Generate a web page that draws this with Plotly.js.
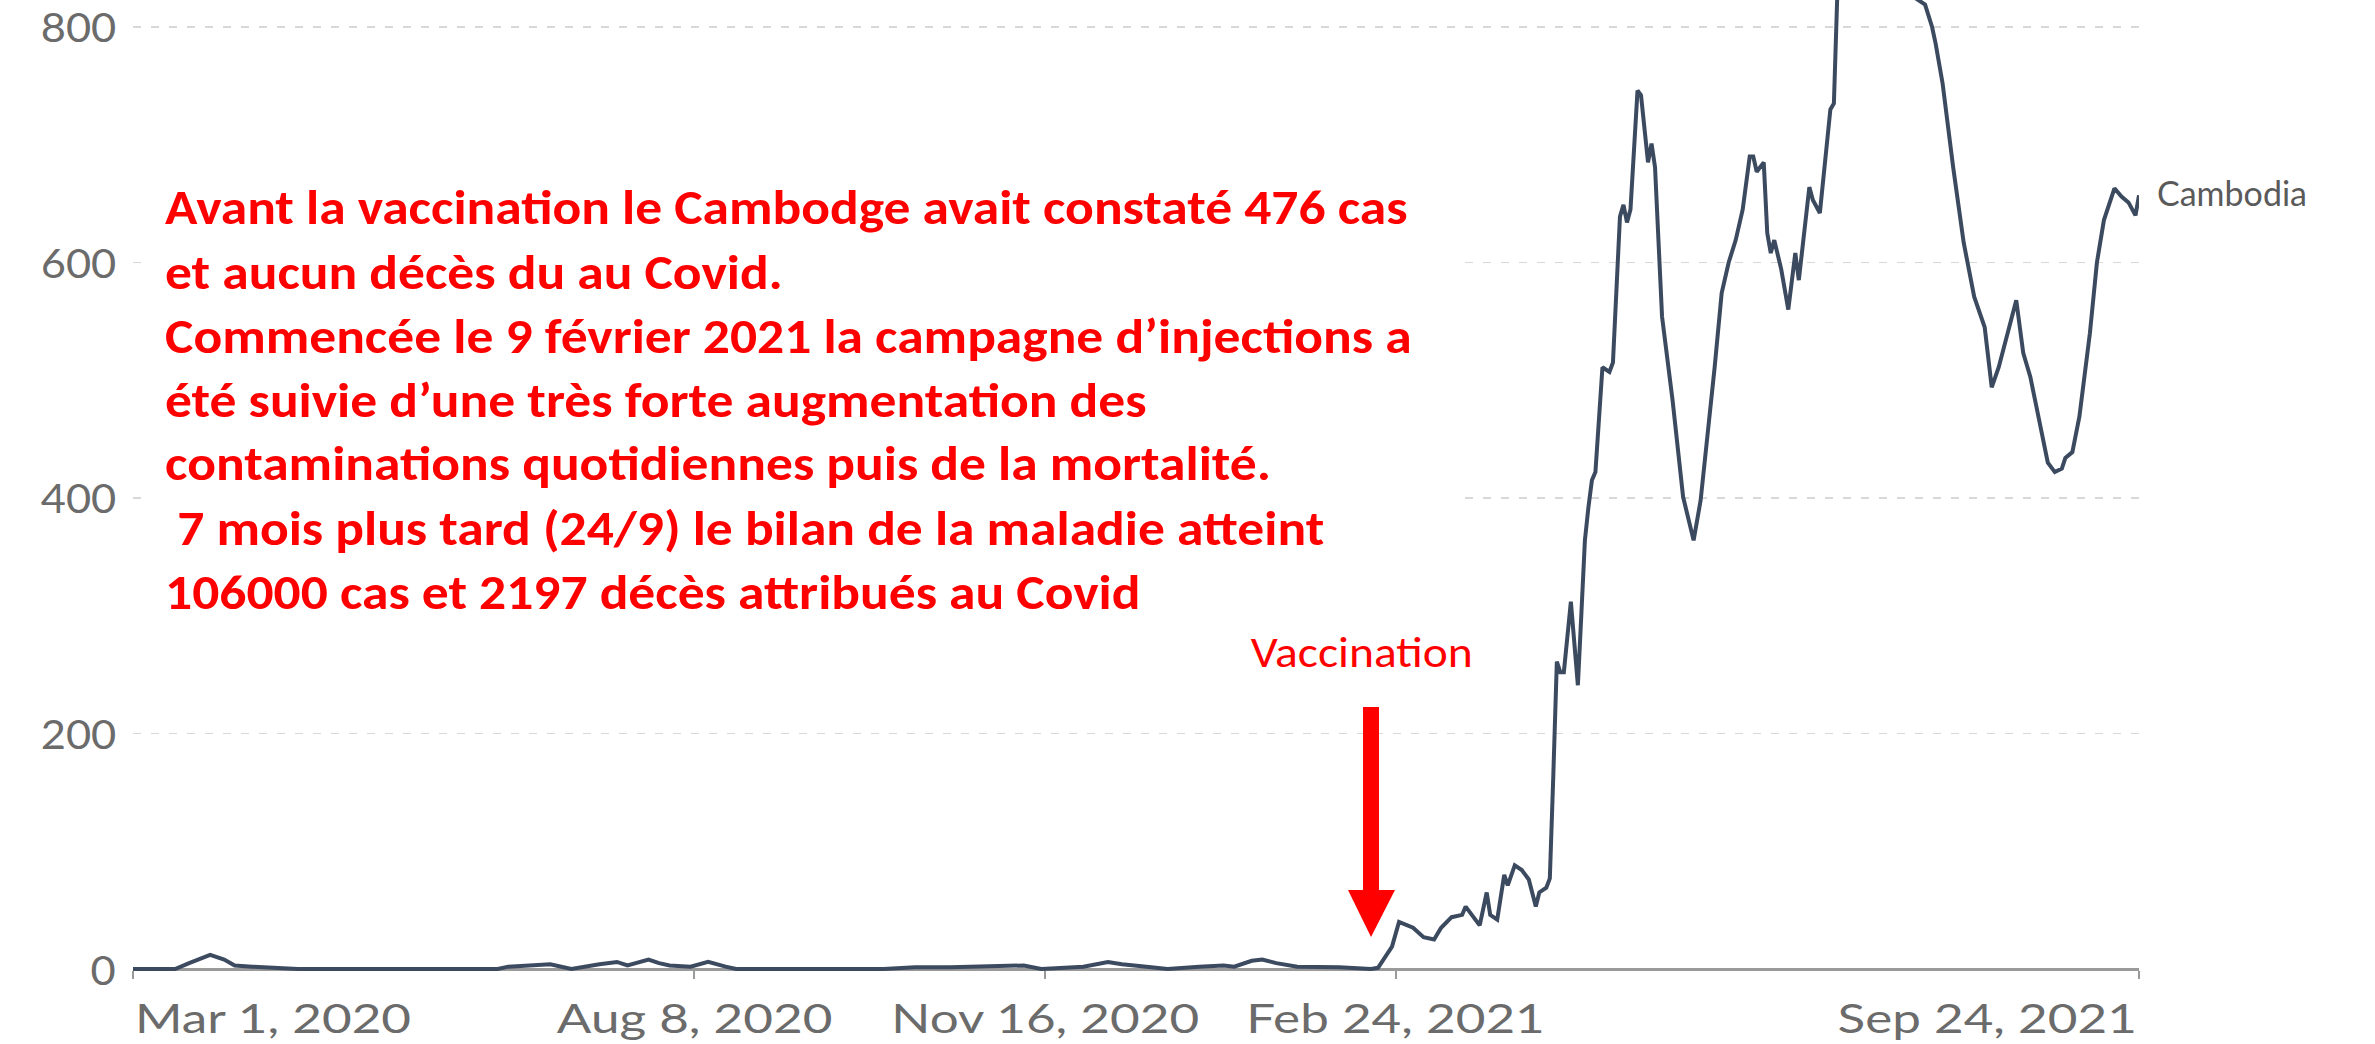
<!DOCTYPE html>
<html><head><meta charset="utf-8">
<script src="https://cdn.plot.ly/plotly-3.0.1.min.js"></script>
<style>html,body{margin:0;padding:0;background:#fff}#chart{width:2375px;height:1044px}</style>
</head><body><div id="chart"></div>
<script>
// ---- data (7-day average of daily new cases, Cambodia) ----
const dates = [
 '2020-03-01','2020-03-13','2020-03-17','2020-03-23','2020-03-27','2020-03-30','2020-04-04','2020-04-17',
 '2020-06-13','2020-06-16','2020-06-28','2020-07-04','2020-07-12','2020-07-17','2020-07-20','2020-07-26',
 '2020-07-29','2020-08-01','2020-08-07','2020-08-12','2020-08-17','2020-08-20','2020-10-01','2020-10-10',
 '2020-10-20','2020-11-10','2020-11-15','2020-11-27','2020-12-04','2020-12-08','2020-12-15','2020-12-21',
 '2020-12-30','2021-01-06','2021-01-09','2021-01-14','2021-01-17','2021-01-21','2021-01-27','2021-02-08',
 '2021-02-17','2021-02-19','2021-02-23','2021-02-25','2021-03-01','2021-03-04','2021-03-07','2021-03-09',
 '2021-03-12','2021-03-15','2021-03-16','2021-03-20','2021-03-22','2021-03-23','2021-03-25','2021-03-27',
 '2021-03-28','2021-03-30','2021-04-01','2021-04-03','2021-04-05','2021-04-06','2021-04-08','2021-04-09',
 '2021-04-10','2021-04-11','2021-04-12','2021-04-13','2021-04-15','2021-04-17','2021-04-18','2021-04-19',
 '2021-04-20','2021-04-21','2021-04-22','2021-04-24','2021-04-26','2021-04-27','2021-04-29','2021-04-30',
 '2021-05-01','2021-05-02','2021-05-04','2021-05-05','2021-05-07','2021-05-08','2021-05-09','2021-05-11',
 '2021-05-14','2021-05-17','2021-05-20','2021-05-22','2021-05-26','2021-05-28','2021-05-30','2021-06-01',
 '2021-06-03','2021-06-05','2021-06-06','2021-06-07','2021-06-09','2021-06-10','2021-06-11','2021-06-12',
 '2021-06-14','2021-06-16','2021-06-18','2021-06-19','2021-06-22','2021-06-23','2021-06-25','2021-06-27',
 '2021-06-28','2021-06-29','2021-06-30','2021-07-03','2021-07-10','2021-07-17','2021-07-22','2021-07-25',
 '2021-07-27','2021-07-28','2021-07-30','2021-08-02','2021-08-05','2021-08-08','2021-08-11','2021-08-13',
 '2021-08-15','2021-08-20','2021-08-22','2021-08-24','2021-08-29','2021-08-31','2021-09-02','2021-09-03',
 '2021-09-05','2021-09-07','2021-09-10','2021-09-12','2021-09-14','2021-09-17','2021-09-19','2021-09-21',
 '2021-09-23','2021-09-24'
];
const cases = [
 0,0,5,12,8,3,2,0,
 0,2,4,0,4,6,3,8,
 5,3,2,6,2,0,0,1.5,
 1.5,3,0,2,6,4,2,0,
 2,3,2,7,8,5,2,1.5,
 0,1,19,40,35,27,25,35,
 44,46,53,37,65,46,42,80,
 71,88,84,76,53,65,69,77,
 165,261,252,252,312,241,302,364,
 392,415,422,511,507,515,639,649,
 634,645,746,742,685,701,681,554,
 483,401,364,398,511,574,600,619,
 645,690,690,677,685,625,608,619,
 594,560,608,585,664,653,642,704,
 730,735,830,885,910,890,825,819,
 800,786,752,681,617,571,545,494,
 511,568,523,503,430,422,425,434,
 439,469,540,600,636,663,656,651,
 640,657
];
const seriesName = 'Cambodia';
const tickDates = ['2020-03-01','2020-08-08','2020-11-16','2021-02-24','2021-09-24'];
const tickLabels = ['Mar 1, 2020','Aug 8, 2020','Nov 16, 2020','Feb 24, 2021','Sep 24, 2021'];
const tickAnchors = ['left','center','center','center','right'];
const yTicks = [0,200,400,600,800];
const yTickLabels = ['0','200','400','600','800'];
const noteLines = [
 'Avant la vaccination le Cambodge avait constaté 476 cas',
 'et aucun décès du au Covid.',
 'Commencée le 9 février 2021 la campagne d\u2019injections a',
 'été suivie d\u2019une très forte augmentation des',
 'contaminations quotidiennes puis de la mortalité.',
 '\u00a07 mois plus tard (24/9) le bilan de la maladie atteint',
 '106000 cas et 2197 décès attribués au Covid'
];
const arrowLabel = 'Vaccination';

// ---- layout helpers (pixel -> paper) ----
const L = 133, R = 2139, T = 0, B = 974;
const px = x => (x - L) / (R - L);
const py = y => (B - y) / (B - T);

const RED = '#ff0000';
const NOTE_FONT = 'Carlito, Calibri, "Liberation Sans Narrow", "Open Sans", sans-serif';
const AXIS_FONT = 'Lato, "Open Sans", sans-serif';
const AXIS_GREY = '#6b6b6b';

const trace = {
  x: dates, y: cases, type: 'scatter', mode: 'lines', name: seriesName,
  line: {color: '#3c4a60', width: 4}, hoverinfo: 'skip'
};

const annotations = [];
const stretch = [];
function addAnn(a, sx, origin) { annotations.push(a); stretch.push(sx ? {sx, origin} : null); }

const ORIGIN = {left: 'left center', center: 'center center', right: 'right center'};
tickDates.forEach((d, i) => addAnn({
  xref: 'x', yref: 'paper', x: d, y: py(1018), xanchor: tickAnchors[i], yanchor: 'middle',
  text: tickLabels[i], showarrow: false, font: {family: AXIS_FONT, size: 40, color: AXIS_GREY}
}, 1.28, ORIGIN[tickAnchors[i]]));
yTicks.forEach((v, i) => addAnn({
  xref: 'paper', yref: 'y', x: 0, y: v, xanchor: 'right', yanchor: 'middle', xshift: -15,
  text: yTickLabels[i], showarrow: false, font: {family: AXIS_FONT, size: 41, color: AXIS_GREY}
}, 1.06, ORIGIN.right));
addAnn({
  xref: 'x', yref: 'y', x: dates[dates.length - 1], y: cases[cases.length - 1],
  xanchor: 'left', yanchor: 'middle', xshift: 16, yshift: 3, text: seriesName, showarrow: false,
  font: {family: AXIS_FONT, size: 34, color: '#5a5a5a'}
});
noteLines.forEach((t, i) => addAnn({
  xref: 'paper', yref: 'paper', x: px(163), y: py(208 + 64 * i), xanchor: 'left', yanchor: 'middle',
  text: '<b>' + t + '</b>', showarrow: false, font: {family: NOTE_FONT, size: 48, color: RED}
}, 1.115, ORIGIN.left));
addAnn({
  xref: 'paper', yref: 'paper', x: px(1362), y: py(652), xanchor: 'center', yanchor: 'middle',
  text: arrowLabel, showarrow: false, font: {family: NOTE_FONT, size: 44, color: RED}
}, 1.08, ORIGIN.center);

const shapes = [
  {type: 'rect', xref: 'paper', yref: 'paper', x0: px(143), x1: px(1455), y0: py(645), y1: py(150),
   fillcolor: '#ffffff', line: {width: 0}, layer: 'above'},
  {type: 'rect', xref: 'paper', yref: 'paper', x0: px(1363), x1: px(1379), y0: py(892), y1: py(707),
   fillcolor: RED, line: {width: 0}, layer: 'above'},
  {type: 'path', xref: 'paper', yref: 'paper',
   path: `M ${px(1348)} ${py(890)} L ${px(1395)} ${py(890)} L ${px(1371)} ${py(937)} Z`,
   fillcolor: RED, line: {width: 0}, layer: 'above'}
];

const layout = {
  width: 2375, height: 1044,
  margin: {l: L, r: 2375 - R, t: T, b: 1044 - B, pad: 0},
  paper_bgcolor: '#ffffff', plot_bgcolor: '#ffffff', showlegend: false,
  xaxis: {
    type: 'date', range: ['2020-03-01', '2021-09-24'], tickvals: tickDates, showticklabels: false,
    ticks: 'outside', ticklen: 8, tickwidth: 2, tickcolor: '#9a9a9a',
    showline: true, linecolor: '#9a9a9a', linewidth: 3, showgrid: false, zeroline: false,
    anchor: 'free', position: py(969), layer: 'below traces', fixedrange: true
  },
  yaxis: {
    range: [-4.25, 822.9], tickvals: yTicks, ticks: '', showline: false, zeroline: false,
    showticklabels: false,
    showgrid: true, gridcolor: '#d8d8d8', gridwidth: 1.5, griddash: '8px,10px', fixedrange: true
  },
  annotations: annotations,
  shapes: shapes
};

Plotly.newPlot('chart', [trace], layout, {displayModeBar: false, staticPlot: true}).then(gd => {
  // the reference's lettering is horizontally widened; reproduce that on the text nodes
  gd.querySelectorAll('g.annotation').forEach(g => {
    const s = stretch[+g.getAttribute('data-index')];
    if (!s) return;
    g.querySelectorAll('text.annotation-text').forEach(t => {
      t.style.transformBox = 'fill-box';
      t.style.transformOrigin = s.origin;
      t.style.transform = 'scaleX(' + s.sx + ')';
    });
  });
});
</script>
</body></html>
